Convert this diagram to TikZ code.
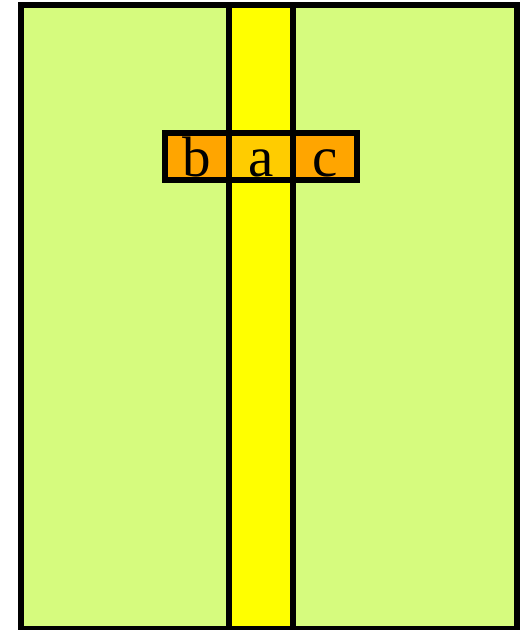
\documentclass[tikz,border=0pt]{standalone}
\usepackage{fontspec}
\setmainfont{Liberation Serif}
\usetikzlibrary{positioning}
\definecolor{boardgreen}{HTML}{D6FB7E}
\definecolor{stripyellow}{HTML}{FFFF00}
\definecolor{cellorange}{HTML}{FFA500}
\definecolor{cellgold}{HTML}{FFCC00}
\begin{document}
\begin{tikzpicture}[
  x=1pt, y=1pt,
  line width=6pt,
  every node/.style={font=\fontsize{57}{57}\selectfont},
  cell/.style={draw, fill=cellorange, outer sep=0pt, inner sep=0pt,
    minimum width=64pt, minimum height=47pt,
    text height=44pt, text depth=3pt}]
  \useasboundingbox (0,0) rectangle (524,630);
  % board and middle strip
  \draw[fill=boardgreen] (21,1) rectangle (517,625);
  \draw[fill=stripyellow] (229,1) rectangle (293,625);
  % row of cells
  \node[cell, fill=cellgold] (a) at (261,473.5) {a};
  \node[cell, left=0pt of a] (b) {b};
  \node[cell, right=0pt of a] (c) {c};
\end{tikzpicture}
\end{document}
